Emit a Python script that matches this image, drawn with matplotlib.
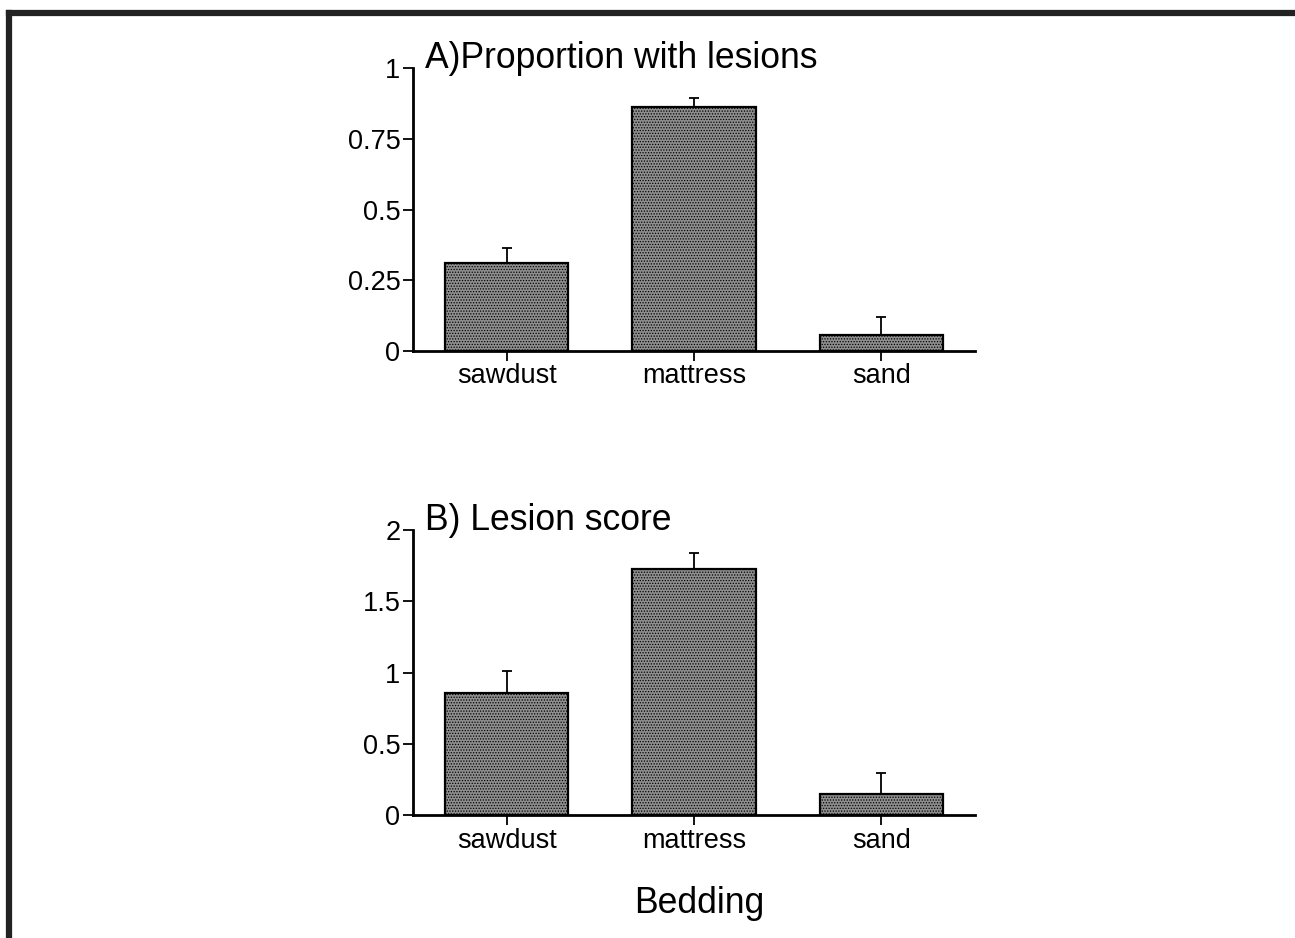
import matplotlib
matplotlib.use('Agg')
import matplotlib.pyplot as plt
from matplotlib.lines import Line2D

plt.rcParams['font.family'] = ['Liberation Sans', 'DejaVu Sans']

beddings = ['sawdust', 'mattress', 'sand']

# A) proportion with lesions
prop_mean = [0.311, 0.862, 0.057]
prop_err = [0.053, 0.032, 0.063]

# B) lesion score
score_mean = [0.856, 1.726, 0.147]
score_err = [0.154, 0.114, 0.148]


def draw_panel(ax, means, errs, title, yticks, yticklabels, ymax):
    x = range(len(beddings))
    ax.bar(x, means, width=0.66, color='#8e8e8e', edgecolor='black',
           linewidth=1.6, hatch='......', zorder=2)
    ax.errorbar(x, means, yerr=[[0] * len(errs), errs], fmt='none',
                ecolor='black', elinewidth=1.3, capsize=3.5, capthick=1.3, zorder=1)
    ax.set_xlim(-0.5, 2.5)
    ax.set_ylim(0, ymax)
    ax.set_yticks(yticks)
    ax.set_yticklabels(yticklabels)
    ax.set_xticks(list(x))
    ax.set_xticklabels(beddings)
    for s in ['top', 'right']:
        ax.spines[s].set_visible(False)
    ax.spines['left'].set_linewidth(2)
    ax.spines['bottom'].set_linewidth(2)
    ax.tick_params(direction='out', length=7, width=1.3, labelsize=19.5, pad=2)
    ax.text(0.021, 1.0, title, transform=ax.transAxes, fontsize=25.6,
            va='baseline', ha='left')


fig = plt.figure(figsize=(12.95, 9.38), dpi=100)
plt.rcParams['hatch.color'] = '#5a5a5a'
plt.rcParams['hatch.linewidth'] = 0.6

ax1 = fig.add_axes([0.3189, 0.6258, 0.434, 0.3017])
draw_panel(ax1, prop_mean, prop_err, 'A)Proportion with lesions',
           [0, 0.25, 0.5, 0.75, 1], ['0', '0.25', '0.5', '0.75', '1'], 1)

ax2 = fig.add_axes([0.3189, 0.1311, 0.434, 0.3038])
draw_panel(ax2, score_mean, score_err, 'B) Lesion score',
           [0, 0.5, 1, 1.5, 2], ['0', '0.5', '1', '1.5', '2'], 2)

fig.text(0.5397, 0.037, 'Bedding', ha='center', va='center', fontsize=25.6)

# frame on the top and left edges
fig.add_artist(Line2D([0.0069, 1.0], [0.9866, 0.9866], color='#222222', linewidth=4.5))
fig.add_artist(Line2D([0.0069, 0.0069], [0.0, 0.9866], color='#222222', linewidth=4.5))

fig.savefig('out.png', dpi=100)
